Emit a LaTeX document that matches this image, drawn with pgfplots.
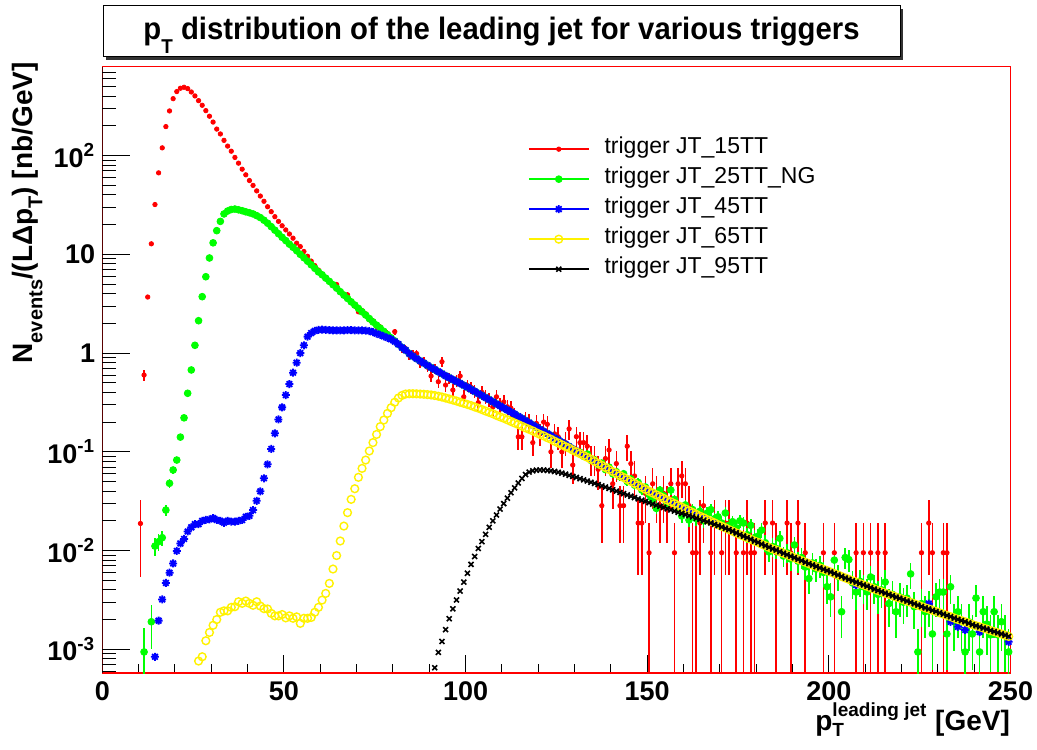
\documentclass[border=0pt]{standalone}
\usepackage{fontspec}
\setmainfont{Liberation Sans}
\usepackage{graphicx}
\usepackage{pgfplots}
\usepackage{pgfplotstable}
\pgfplotsset{compat=1.18}
\pgfdeclareplotmark{ast8}{%
 \pgfpathmoveto{\pgfqpoint{-\pgfplotmarksize}{0pt}}\pgfpathlineto{\pgfqpoint{\pgfplotmarksize}{0pt}}%
 \pgfpathmoveto{\pgfqpoint{0pt}{-\pgfplotmarksize}}\pgfpathlineto{\pgfqpoint{0pt}{\pgfplotmarksize}}%
 \pgfpathmoveto{\pgfqpoint{-0.707\pgfplotmarksize}{-0.707\pgfplotmarksize}}\pgfpathlineto{\pgfqpoint{0.707\pgfplotmarksize}{0.707\pgfplotmarksize}}%
 \pgfpathmoveto{\pgfqpoint{-0.707\pgfplotmarksize}{0.707\pgfplotmarksize}}\pgfpathlineto{\pgfqpoint{0.707\pgfplotmarksize}{-0.707\pgfplotmarksize}}%
 \pgfusepathqstroke}

\pgfplotstableread{
x r re g ge b yl k
10.5 0.0188 0.0134 nan nan nan nan nan
11.5 0.60 0.0755 0.00094 0.00069 nan nan nan
12.5 3.7 0.19 nan nan nan nan nan
13.5 12.8 0 0.0019 0.0009 nan nan nan
14.5 32 0 0.0111 0.0022 0.00084 nan nan
15.5 67 0 0.0123 0.0023 0.00195 nan nan
16.5 120 0 0.0135 0.0024 0.0032 nan nan
17.5 197 0 0.0257 0.0033 0.0047 nan nan
18.5 284 0 0.048 0.0045 0.00596 nan nan
19.5 378 0 0.0655 0.0055 0.0074 nan nan
20.5 446 0 0.0826 0.0062 0.0099 nan nan
21.5 482 0 0.141 0.0081 0.0118 nan nan
22.5 493 0 0.221 0.0102 0.0131 nan nan
23.5 478 0 0.392 0.0136 0.0156 nan nan
24.5 442 0 0.675 0 0.0172 nan nan
25.5 403 0 1.2 0 0.0185 nan nan
26.5 361 0 2.13 0 0.0185 0.00076 nan
27.5 324 0 3.73 0 0.0200 0.00084 nan
28.5 286 0 5.94 0 0.0204 0.00122 nan
29.5 251 0 9.2 0 0.0207 0.00148 nan
30.5 219 0 13.1 0 0.0213 0.00175 nan
31.5 186 0 17.4 0 0.0204 0.0020 nan
32.5 166 0 21.6 0 0.0200 0.00237 nan
33.5 143 0 25.7 0 0.0191 0.00245 nan
34.5 125 0 27.5 0 0.0200 0.00245 nan
35.5 111 0 28.5 0 0.0196 0.00266 nan
36.5 96 0 28.8 0 0.0196 0.0027 nan
37.5 84 0 28.3 0 0.0200 0.00303 nan
38.5 73 0 27.7 0 0.0204 0.00292 nan
39.5 64 0 27.0 0 0.0220 0.00308 nan
40.5 56 0 26.4 0 0.0225 0.00292 nan
41.5 50 0 25.7 0 0.0257 0.00279 nan
42.5 44 0 24.7 0 0.0319 0.00303 nan
43.5 39 0 23.6 0 0.0398 0.00274 nan
44.5 34.5 0 22.2 0 0.054 0.00258 nan
45.5 30.4 0 20.7 0 0.0747 0.00256 nan
46.5 27.1 0 19.1 0 0.107 0.00231 nan
47.5 24.1 0 17.6 0 0.154 0.00218 nan
48.5 21.6 0 16.2 0 0.213 0.00218 nan
49.5 19.5 0 14.9 0 0.282 0.00225 nan
50.5 17.7 0 13.8 0 0.376 0.00208 nan
51.5 16.1 0 12.7 0 0.486 0.00218 nan
52.5 14.6 0 11.8 0 0.633 0.00206 nan
53.5 13.0 0 10.9 0 0.80 0.00213 nan
54.5 12.0 0 10.0 0 1.0 0.00183 nan
55.5 10.7 0 9.25 0 1.2 0.00206 nan
56.5 9.57 0 8.53 0 1.47 0.00206 nan
57.5 8.55 0 7.85 0 1.60 0.0021 nan
58.5 7.69 0 7.23 0 1.68 0.00237 nan
59.5 6.94 0 6.65 0 1.72 0.00266 nan
60.5 6.32 0 6.22 0 1.73 0.00315 nan
61.5 5.80 0 5.75 0 1.72 0.00368 nan
62.5 5.40 0.226 5.33 0 1.71 0.00465 nan
63.5 4.90 0.216 4.93 0 1.70 0.0065 nan
64.5 4.95 0.217 4.55 0 1.70 0.0089 nan
65.5 4.15 0.199 4.19 0 1.70 0.0125 nan
66.5 3.95 0.194 3.87 0 1.70 0.0177 nan
67.5 3.90 0.192 3.58 0 1.71 0.0242 nan
68.5 3.25 0.176 3.31 0 1.71 0.033 nan
69.5 3.00 0.169 3.07 0 1.70 0.0423 nan
70.5 2.62 0.158 2.84 0 1.70 0.0552 nan
71.5 2.70 0.160 2.62 0 1.70 0.068 nan
72.5 2.50 0.154 2.43 0 1.69 0.0826 nan
73.5 2.18 0.144 2.24 0 1.67 0.102 nan
74.5 2.12 0.142 2.07 0 1.63 0.124 nan
75.5 1.86 0.133 1.92 0 1.58 0.150 nan
76.5 1.84 0.132 1.79 0 1.53 0.180 nan
77.5 1.60 0.123 1.66 0 1.48 0.21 nan
78.5 1.58 0.123 1.54 0 1.43 0.245 nan
79.5 1.40 0.115 1.43 0 1.38 0.28 nan
80.5 1.65 0.125 1.33 0 1.31 0.318 nan
81.5 1.26 0.109 1.23 0 1.23 0.351 nan
82.5 1.10 0.102 1.14 0 1.14 0.373 nan
83.5 1.11 0.103 1.07 0 1.07 0.385 nan
84.5 0.95 0.095 0.991 0 0.991 0.388 nan
85.5 0.97 0.096 0.929 0 0.929 0.388 nan
86.5 0.99 0.097 0.880 0 0.880 0.387 nan
87.5 0.80 0.087 0.835 0 0.835 0.385 nan
88.5 0.82 0.088 0.792 0 0.792 0.383 nan
89.5 0.72 0.083 0.752 0 0.752 0.380 nan
90.5 0.586 0.075 0.715 0 0.715 0.377 nan
91.5 0.70 0.082 0.682 0 0.682 0.372 0.00065
92.5 0.513 0.070 0.649 0 0.649 0.366 0.00093
93.5 0.818 0.088 0.619 0 0.619 0.359 0.00120
94.5 0.475 0.067 0.589 0 0.589 0.351 0.00158
95.5 0.56 0.073 0.563 0 0.563 0.343 0.00204
96.5 0.423 0.063 0.539 0 0.539 0.335 0.00257
97.5 0.53 0.071 0.516 0 0.516 0.327 0.00316
98.5 0.586 0.075 0.494 0 0.494 0.318 0.00389
99.5 0.361 0.059 0.472 0 0.472 0.310 0.00479
100.5 0.47 0.067 0.451 0.0146 0.451 0.302 0.00589
101.5 0.45 0.065 0.430 0.0142 0.430 0.294 0.00724
102.5 0.416 0.063 0.410 0.0139 0.410 0.285 0.00871
103.5 0.315 0.055 0.390 0.0135 0.390 0.277 0.0105
104.5 0.40 0.062 0.372 0.0132 0.372 0.268 0.0123
105.5 0.361 0.059 0.354 0.0129 0.354 0.259 0.0146
106.5 0.342 0.057 0.338 0.0126 0.338 0.251 0.0172
107.5 0.285 0.052 0.322 0.0123 0.322 0.243 0.0200
108.5 0.361 0.059 0.306 0.0120 0.306 0.234 0.0229
109.5 0.298 0.053 0.292 0.0117 0.292 0.226 0.0263
110.5 0.32 0.055 0.278 0.0114 0.278 0.219 0.0299
111.5 0.286 0.052 0.265 0.0112 0.265 0.211 0.0339
112.5 0.276 0.051 0.253 0.0109 0.253 0.203 0.0385
113.5 0.228 0.047 0.241 0.0106 0.241 0.196 0.0432
114.5 0.142 0.037 0.229 0.0104 0.229 0.189 0.0484
115.5 0.142 0.037 0.218 0.0101 0.218 0.182 0.0537
116.5 0.21 0.045 0.207 0.0099 0.207 0.175 0.0589
117.5 0.197 0.043 0.197 0.0096 0.197 0.169 0.0624
118.5 0.124 0.034 0.187 0.0094 0.187 0.163 0.0643
119.5 0.194 0.043 0.178 0.0091 0.178 0.156 0.0652
120.5 0.152 0.038 0.169 0.0089 0.169 0.150 0.0655
121.5 0.20 0.044 0.161 0.0087 0.161 0.145 0.0653
122.5 0.19 0.042 0.153 0.0085 0.153 0.139 0.0649
123.5 0.10 0.031 0.146 0.0083 0.146 0.134 0.0641
124.5 0.152 0.038 0.138 0.0081 0.138 0.128 0.0632
125.5 0.142 0.037 0.132 0.0079 0.132 0.123 0.0621
126.5 0.10 0.031 0.125 0.0077 0.125 0.118 0.0608
127.5 0.124 0.034 0.119 0.0075 0.119 0.113 0.0594
128.5 0.171 0.040 0.113 0.0073 0.113 0.109 0.0579
129.5 0.0735 0.026 0.107 0.0071 0.107 0.104 0.0564
130.5 0.1425 0.037 0.102 0.0069 0.102 0.0999 0.0550
131.5 0.124 0.034 0.099 0.0068 0.0974 0.0958 0.0535
132.5 0.124 0.034 0.090 0.0065 0.0928 0.0919 0.0520
133.5 0.114 0.033 0.095 0.0067 0.0884 0.0880 0.0506
134.5 0.0855 0.0285 0.082 0.0062 0.0842 0.0842 0.0492
135.5 0.0855 0.0285 0.083 0.0062 0.0802 0.0802 0.0479
136.5 0.0665 0.025 0.074 0.0059 0.0764 0.0764 0.0466
137.5 0.0285 0.0165 0.077 0.0060 0.0729 0.0729 0.0452
138.5 0.0855 0.0285 0.066 0.0056 0.0694 0.0694 0.0439
139.5 0.1045 0.0315 0.070 0.0057 0.0662 0.0662 0.0426
140.5 0.0475 0.0212 0.060 0.0053 0.0631 0.0631 0.0412
141.5 0.076 0.0269 0.063 0.0054 0.0603 0.0603 0.0400
142.5 0.0285 0.0165 0.056 0.0051 0.0575 0.0575 0.0388
143.5 0.0285 0.0165 0.060 0.0053 0.0550 0.0550 0.0377
144.5 0.114 0.033 0.050 0.0048 0.0525 0.0525 0.0366
145.5 0.076 0.0269 0.053 0.0050 0.0501 0.0501 0.0355
146.5 0.057 0.0233 0.046 0.0046 0.0479 0.0479 0.0344
147.5 0.019 0.0134 0.049 0.0048 0.0457 0.0457 0.0334
148.5 0.019 0.0134 0.041 0.0044 0.0437 0.0437 0.0324
149.5 0.038 0.019 0.044 0.0045 0.0417 0.0417 0.0315
150.5 0.0095 0.00949 0.037 0.0042 0.0399 0.0399 0.0305
151.5 0.0475 0.0212 0.0325 0.0039 0.0383 0.0383 0.0296
152.5 0.038 0.019 0.0267 0.0035 0.0367 0.0367 0.0288
153.5 0.0285 0.0165 0.041 0.0044 0.0352 0.0352 0.0281
154.5 0.038 0.019 0.036 0.0041 0.0338 0.0338 0.0273
155.5 0.0285 0.0165 0.030 0.0038 0.0324 0.0324 0.0265
156.5 0.0475 0.0212 0.041 0.0044 0.0311 0.0311 0.0258
157.5 0.0095 0.00949 0.033 0.0039 0.0299 0.0299 0.0251
158.5 0.0475 0.0212 0.027 0.0036 0.0286 0.0286 0.0244
159.5 0.057 0.0233 0.0224 0.0032 0.0275 0.0275 0.0238
160.5 0.0475 0.0212 0.029 0.0037 0.0264 0.0264 0.0231
161.5 0.0285 0.0165 0.0204 0.0031 0.0253 0.0253 0.0225
162.5 0.0095 0.00949 0.026 0.0035 0.0243 0.0243 0.0219
163.5 0.0095 0.00949 0.021 0.0031 0.0233 0.0233 0.0213
164.5 0.019 0.0134 0.025 0.0034 0.0223 0.0223 0.0207
165.5 0.0285 0.0165 0.020 0.0031 0.0215 0.0215 0.0201
166.5 nan nan 0.024 0.0034 0.0206 0.0206 0.0195
167.5 0.0095 0.00949 0.026 0.0035 0.0198 0.0198 0.0190
168.5 0.019 0.0134 0.021 0.0031 0.0191 0.0191 0.0184
169.5 nan nan 0.022 0.0032 0.0183 0.0183 0.0179
170.5 0.0095 0.00949 0.019 0.0030 0.0176 0.0176 0.0173
171.5 0.019 0.0134 0.024 0.0034 0.0170 0.0170 0.0168
172.5 0.019 0.0134 0.018 0.0029 0.0163 0.0163 0.0163
173.5 nan nan 0.0196 0.0030 0.0157 0.0157 0.0157
174.5 0.0095 0.00949 0.017 0.0028 0.0151 0.0151 0.0151
175.5 nan nan 0.020 0.0031 0.0145 0.0145 0.0145
176.5 0.0095 0.00949 0.019 0.0030 0.0140 0.0140 0.0140
177.5 0.019 0.0134 0.0145 0.0026 0.0135 0.0135 0.0135
178.5 0.0095 0.00949 0.018 0.0029 0.0130 0.0130 0.0130
179.5 0.0095 0.00949 0.0135 0.0025 0.0125 0.0125 0.0125
180.5 nan nan 0.014 0.0026 0.0121 0.0121 0.0121
181.5 nan nan 0.0161 0.0028 0.0116 0.0116 0.0116
182.5 0.019 0.0134 0.012 0.0024 0.0112 0.0112 0.0112
183.5 nan nan 0.0097 0.0021 0.0108 0.0108 0.0108
184.5 0.019 0.0134 0.011 0.0023 0.0104 0.0104 0.0104
185.5 0.0095 0.00949 0.0105 0.0022 0.0101 0.0101 0.0101
186.5 nan nan 0.0133 0.0025 0.00972 0.00972 0.00972
187.5 nan nan 0.0088 0.0020 0.00939 0.00939 0.00939
188.5 0.019 0.0134 0.0095 0.0021 0.00907 0.00907 0.00907
189.5 0.0095 0.00949 0.0082 0.0020 0.00876 0.00876 0.00876
190.5 nan nan 0.0114 0.0023 0.00846 0.00846 0.00846
191.5 0.019 0.0134 0.0078 0.0019 0.00818 0.00818 0.00818
192.5 nan nan 0.0085 0.0020 0.00790 0.00790 0.00790
193.5 0.0095 0.00949 0.0068 0.0018 0.00763 0.00763 0.00763
194.5 nan nan 0.0052 0.0016 0.00737 0.00737 0.00737
195.5 nan nan 0.0075 0.0019 0.00713 0.00713 0.00713
196.5 nan nan 0.0065 0.0017 0.00690 0.00690 0.00690
197.5 nan nan 0.0071 0.0018 0.00668 0.00668 0.00668
198.5 0.0095 0.00949 0.0060 0.0017 0.00647 0.00647 0.00647
199.5 nan nan 0.0043 0.0014 0.00627 0.00627 0.00627
200.5 nan nan 0.0034 0.0013 0.00606 0.00606 0.00606
201.5 0.0095 0.00949 0.0080 0.0019 0.00585 0.00585 0.00585
202.5 nan nan 0.0055 0.0016 0.00566 0.00566 0.00566
203.5 nan nan 0.0024 0.0011 0.00546 0.00546 0.00546
204.5 nan nan 0.0085 0.0020 0.00528 0.00528 0.00528
205.5 nan nan 0.0081 0.0020 0.00511 0.00511 0.00511
206.5 nan nan 0.0047 0.0015 0.00494 0.00494 0.00494
207.5 0.0095 0.00949 0.0038 0.0013 0.00447 0.00479 0.00479
208.5 nan nan 0.0049 0.0015 0.00463 0.00463 0.00463
209.5 0.0095 0.00949 0.0043 0.0014 0.00449 0.00449 0.00449
210.5 nan nan 0.0038 0.0013 0.00435 0.00435 0.00435
211.5 0.0095 0.00949 0.0054 0.0016 0.00421 0.00421 0.00421
212.5 nan nan 0.0043 0.0014 0.00407 0.00407 0.00407
213.5 0.0095 0.00949 0.0036 0.0013 0.00394 0.00394 0.00394
214.5 nan nan 0.0040 0.0014 0.00382 0.00382 0.00382
215.5 0.0095 0.00949 0.0048 0.0015 0.00370 0.00370 0.00370
216.5 nan nan 0.0029 0.0012 0.00359 0.00359 0.00359
217.5 nan nan 0.0036 0.0013 0.00349 0.00349 0.00349
218.5 nan nan 0.0024 0.0011 0.00338 0.00338 0.00338
219.5 nan nan 0.0034 0.0013 0.00328 0.00328 0.00328
220.5 nan nan 0.0030 0.0012 0.00318 0.00318 0.00318
221.5 nan nan 0.0033 0.0012 0.00308 0.00308 0.00308
222.5 nan nan 0.0058 0.0017 0.00299 0.00299 0.00299
223.5 nan nan 0.0027 0.0011 0.00289 0.00289 0.00289
224.5 nan nan 0.00094 0.00066 0.00280 0.00280 0.00280
225.5 0.0095 0.00949 0.0029 0.0012 0.00271 0.00271 0.00271
226.5 nan nan 0.0024 0.0011 0.00263 0.00263 0.00263
227.5 0.019 0.0134 0.0028 0.0011 0.0029 0.00256 0.00256
228.5 0.0095 0.00949 0.00143 0.00082 0.00248 0.00248 0.00248
229.5 nan nan 0.0034 0.0013 0.00241 0.00241 0.00241
230.5 nan nan 0.0038 0.0013 0.00234 0.00234 0.00234
231.5 0.0095 0.00949 0.0038 0.0013 0.00227 0.00227 0.00227
232.5 0.0095 0.00949 0.00143 0.00082 0.00220 0.00220 0.00220
233.5 nan nan 0.0043 0.0014 0.0019 0.00214 0.00214
234.5 nan nan 0.0019 0.00095 0.00207 0.00207 0.00207
235.5 nan nan 0.0024 0.0011 0.00169 0.00201 0.00201
236.5 nan nan 0.0019 0.00095 0.00195 0.00195 0.00195
237.5 nan nan 0.00094 0.00066 0.00157 0.00190 0.00190
238.5 nan nan 0.0019 0.00095 0.00184 0.00184 0.00184
239.5 nan nan 0.00143 0.00082 0.00178 0.00178 0.00178
240.5 nan nan 0.0033 0.0012 0.00173 0.00173 0.00173
241.5 nan nan 0.00094 0.00066 0.0015 0.00169 0.00169
242.5 nan nan 0.0024 0.0011 0.00164 0.00164 0.00164
243.5 nan nan 0.0018 0.00092 0.00160 0.00160 0.00160
244.5 nan nan 0.0014 0.00081 0.00155 0.00155 0.00155
245.5 nan nan 0.0024 0.0011 0.00151 0.00151 0.00151
246.5 nan nan 0.0014 0.00081 0.00147 0.00147 0.00147
247.5 nan nan 0.0019 0.00095 0.00143 0.00143 0.00143
248.5 nan nan 0.0014 0.00081 0.00139 0.00139 0.00139
249.5 nan nan 0.00094 0.00066 0.00119 0.00135 0.00135
}\datatable

\begin{document}
\begin{tikzpicture}
\useasboundingbox (-51.15pt,-38pt) rectangle (467.35pt,336.5pt);
\fill[white] (-51.15pt,-38pt) rectangle (467.35pt,336.5pt);
% title box with shadow
\fill[black!80] (1.85pt,306.5pt) rectangle (400.35pt,332pt);
\draw[black, line width=0.5pt, fill=white] (0.35pt,308pt) rectangle (398.85pt,333.5pt);
\node[anchor=base, inner sep=0pt] at (199.6pt,316.5pt) {\resizebox{358pt}{\height}{\bfseries\fontsize{15.5pt}{15.5pt}\selectfont p\raisebox{-0.45em}{\fontsize{10pt}{10pt}\selectfont T} distribution of the leading jet for various triggers}};

\begin{axis}[
  at={(0pt,0pt)}, anchor=south west,
  scale only axis, width=454.1pt, height=303.15pt,
  xmin=0, xmax=250, ymode=log, ymin=5.75e-4, ymax=797,
  axis line style={red, line width=0.6pt},
  xtick={0,50,100,150,200,250},
  xticklabels={0,50,100,150,200,250},
  minor xtick={10,20,30,40,60,70,80,90,110,120,130,140,160,170,180,190,210,220,230,240},
  ytick=\empty,
  xtick pos=left, tick align=inside,
  major tick length=9pt, minor tick length=4.5pt,
  tick style={black, line width=0.5pt},
  xticklabel style={font=\bfseries\fontsize{13.5pt}{13.5pt}\selectfont, yshift=-1pt},
  legend image code/.code={\draw[#1, line width=0.8pt] (0pt,0pt) -- (30pt,0pt); \draw[#1] plot coordinates {(15pt,0pt)};},
  legend style={at={(axis description cs:0.4687,0.8887)}, anchor=north west, draw=none, fill=none,
    inner sep=0pt, outer sep=0pt, row sep=0pt, column sep=7.5pt,
    font=\fontsize{11.5pt}{11.5pt}\selectfont,
    nodes={inner sep=0pt, text height=9.5pt, text depth=5.5pt}},
  legend cell align=left,
]
\addplot[only marks, mark=*, mark size=1.1pt, red,
  error bars/.cd, y dir=both, y explicit, error mark=none, error bar style={line width=0.8pt, red}]
  table[x=x, y=r, y error=re]{\datatable};
\addlegendentry{trigger JT\_15TT}
\addplot[only marks, mark=*, mark size=1.7pt, green,
  error bars/.cd, y dir=both, y explicit, error mark=none, error bar style={line width=0.8pt, green}]
  table[x=x, y=g, y error=ge]{\datatable};
\addlegendentry{trigger JT\_25TT\_NG}
\addplot[only marks, mark=ast8, mark size=2pt, blue, line width=0.9pt]
  table[x=x, y=b]{\datatable};
\addlegendentry{trigger JT\_45TT}
\addplot[only marks, mark=o, mark size=1.95pt, yellow, line width=0.7pt]
  table[x=x, y=yl]{\datatable};
\addlegendentry{trigger JT\_65TT}
\addplot[only marks, mark=x, mark size=1.75pt, black, line width=0.8pt]
  table[x=x, y=k]{\datatable};
\addlegendentry{trigger JT\_95TT}
\draw[black, line width=1pt] (rel axis cs:0,0) -- (rel axis cs:0,1);
\end{axis}

\begin{axis}[
  at={(0pt,0pt)}, anchor=south west,
  scale only axis, width=454.1pt, height=303.15pt,
  xmin=0, xmax=250, ymode=log, ymin=5.75e-4, ymax=797,
  axis line style={draw=none},
  xtick=\empty,
  ytick={1e-3,1e-2,1e-1,1,10,100},
  yticklabels={10\textsuperscript{-3},10\textsuperscript{-2},10\textsuperscript{-1},1,10,10\textsuperscript{2}},
  minor ytick={6e-4,7e-4,8e-4,9e-4,2e-3,3e-3,4e-3,5e-3,6e-3,7e-3,8e-3,9e-3,2e-2,3e-2,4e-2,5e-2,6e-2,7e-2,8e-2,9e-2,0.2,0.3,0.4,0.5,0.6,0.7,0.8,0.9,2,3,4,5,6,7,8,9,20,30,40,50,60,70,80,90,200,300,400,500,600,700},
  ytick pos=left, tick align=inside,
  major tick length=14pt, minor tick length=7pt,
  tick style={black, line width=0.5pt},
  yticklabel style={font=\bfseries\fontsize{13.5pt}{13.5pt}\selectfont},
]
\end{axis}

\node[anchor=base east, inner sep=0pt] at (454pt,-28.5pt) {\bfseries\fontsize{14pt}{14pt}\selectfont p$^{\mbox{\bfseries\fontsize{9.5pt}{9.5pt}\selectfont leading jet}}_{\mbox{\bfseries\fontsize{9.5pt}{9.5pt}\selectfont T}}$ [GeV]};
\node[anchor=base east, rotate=90, inner sep=0pt] at (-34.9pt,305.5pt) {\bfseries\fontsize{14pt}{14pt}\selectfont N\raisebox{-0.35em}{\fontsize{10pt}{10pt}\selectfont events}/(LΔp\raisebox{-0.35em}{\fontsize{10pt}{10pt}\selectfont T}) [nb/GeV]};
\end{tikzpicture}
\end{document}
